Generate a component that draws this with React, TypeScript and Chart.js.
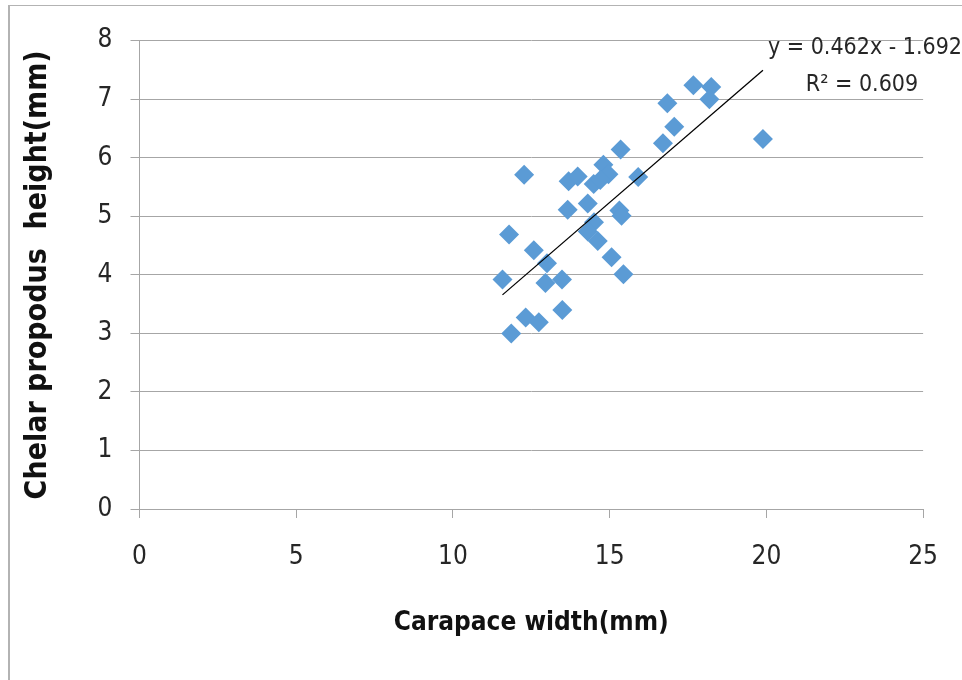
import React, { useEffect, useRef } from "react";
import { Chart, registerables } from "chart.js";

Chart.register(...registerables);

// ---- data ----
const carapaceWidth = [
  17.67, 18.24, 18.18, 16.84, 17.06, 16.7, 19.89, 15.35, 14.8, 14.96, 12.27, 13.69,
  13.98, 14.49, 14.7, 15.91, 13.66, 14.3, 15.31, 15.38, 11.79, 12.58, 14.5, 14.3,
  14.62, 15.06, 15.44, 13.0, 11.58, 12.95, 13.48, 13.49, 12.32, 12.74, 11.86,
];
const chelarHeight = [
  7.24, 7.21, 7.0, 6.93, 6.53, 6.25, 6.32, 6.14, 5.88, 5.72, 5.71, 5.6,
  5.68, 5.55, 5.62, 5.67, 5.11, 5.22, 5.1, 5.01, 4.69, 4.42, 4.9, 4.74,
  4.58, 4.3, 4.01, 4.2, 3.92, 3.86, 3.92, 3.4, 3.27, 3.19, 3.0,
];
const trendSlope = 0.462;
const trendIntercept = -1.692;
const trendX = [11.58, 19.89];
const xTicks = [0, 5, 10, 15, 20, 25];
const yTicks = [0, 1, 2, 3, 4, 5, 6, 7, 8];
const equationText = "y = 0.462x - 1.692";
const r2Text = "R\u00B2 = 0.609";
const xTitle = "Carapace width(mm)";
const yTitle = "Chelar propodus  height(mm)";

const FONT = "'Liberation Sans Narrow', 'DejaVu Sans Condensed', 'Liberation Sans', sans-serif";
const GRID = "#a6a6a6";
const TEXT = "#262626";

export default function App() {
  const ref = useRef<HTMLCanvasElement>(null);

  useEffect(() => {
    if (!ref.current) return;
    const points = carapaceWidth.map((x, i) => ({ x, y: chelarHeight[i] }));
    const trend = trendX.map((x) => ({ x, y: trendSlope * x + trendIntercept }));

    const eqPlugin = {
      id: "trendEquation",
      afterDatasetsDraw(chart: any) {
        const { ctx, scales } = chart;
        const x = scales.x;
        const y = scales.y;
        ctx.save();
        ctx.fillStyle = TEXT;
        ctx.font = `23px ${FONT}`;
        ctx.textBaseline = "middle";
        ctx.textAlign = "left";
        ctx.fillText(equationText, x.getPixelForValue(20.05), y.getPixelForValue(7.87));
        ctx.textAlign = "center";
        ctx.fillText(r2Text, x.getPixelForValue(23.05), y.getPixelForValue(7.24));
        ctx.restore();
      },
    };

    const chart = new Chart(ref.current, {
      type: "scatter",
      data: {
        datasets: [
          {
            label: "trend",
            data: trend,
            showLine: true,
            borderColor: "#000000",
            borderWidth: 1.3,
            pointRadius: 0,
            fill: false,
            order: 0,
          } as any,
          {
            label: "data",
            data: points,
            pointStyle: "rectRot",
            pointRadius: 10,
            backgroundColor: "#5B9BD5",
            borderColor: "#5B9BD5",
            borderWidth: 0,
            order: 1,
          } as any,
        ],
      },
      options: {
        responsive: false,
        animation: false,
        devicePixelRatio: 1,
        layout: { padding: { left: 0, top: 40.7, right: 35.3, bottom: 0 } },
        plugins: { legend: { display: false }, tooltip: { enabled: false } },
        scales: {
          x: {
            type: "linear",
            min: 0,
            max: 25,
            afterBuildTicks: (s: any) => {
              s.ticks = xTicks.map((v) => ({ value: v }));
            },
            afterFit: (s: any) => {
              s.height = 171;
            },
            ticks: { font: { family: FONT, size: 26 }, color: TEXT, padding: 24 },
            grid: { drawOnChartArea: false, drawTicks: true, tickLength: 9, color: GRID },
            border: { color: GRID, width: 1 },
            title: {
              display: true,
              text: xTitle,
              font: { family: FONT, size: 26, weight: "bold" },
              color: "#111",
              padding: { top: 0, bottom: 41 },
            },
          },
          y: {
            type: "linear",
            min: 0,
            max: 8,
            afterBuildTicks: (s: any) => {
              s.ticks = yTicks.map((v) => ({ value: v }));
            },
            afterFit: (s: any) => {
              s.width = 139.5;
            },
            ticks: { font: { family: FONT, size: 26 }, color: TEXT, padding: 18 },
            grid: { color: GRID, tickLength: 9, lineWidth: 1 },
            border: { color: GRID, width: 1 },
            title: {
              display: true,
              text: yTitle,
              font: { family: FONT, size: 30, weight: "bold" },
              color: "#111",
              padding: { top: 20, bottom: 0 },
            },
          },
        },
      } as any,
      plugins: [eqPlugin],
    });
    return () => chart.destroy();
  }, []);

  return (
    <div style={{ position: "fixed", left: 0, top: 0, width: 962, height: 680, background: "#fff", overflow: "hidden" }}>
      <div
        style={{
          position: "absolute",
          left: 8,
          top: 5,
          width: 1000,
          height: 1000,
          borderLeft: "2px solid #b3b3b3",
          borderTop: "1px solid #b3b3b3",
        }}
      />
      <canvas ref={ref} width={962} height={680} style={{ position: "absolute", left: 0, top: 0 }} />
    </div>
  );
}
